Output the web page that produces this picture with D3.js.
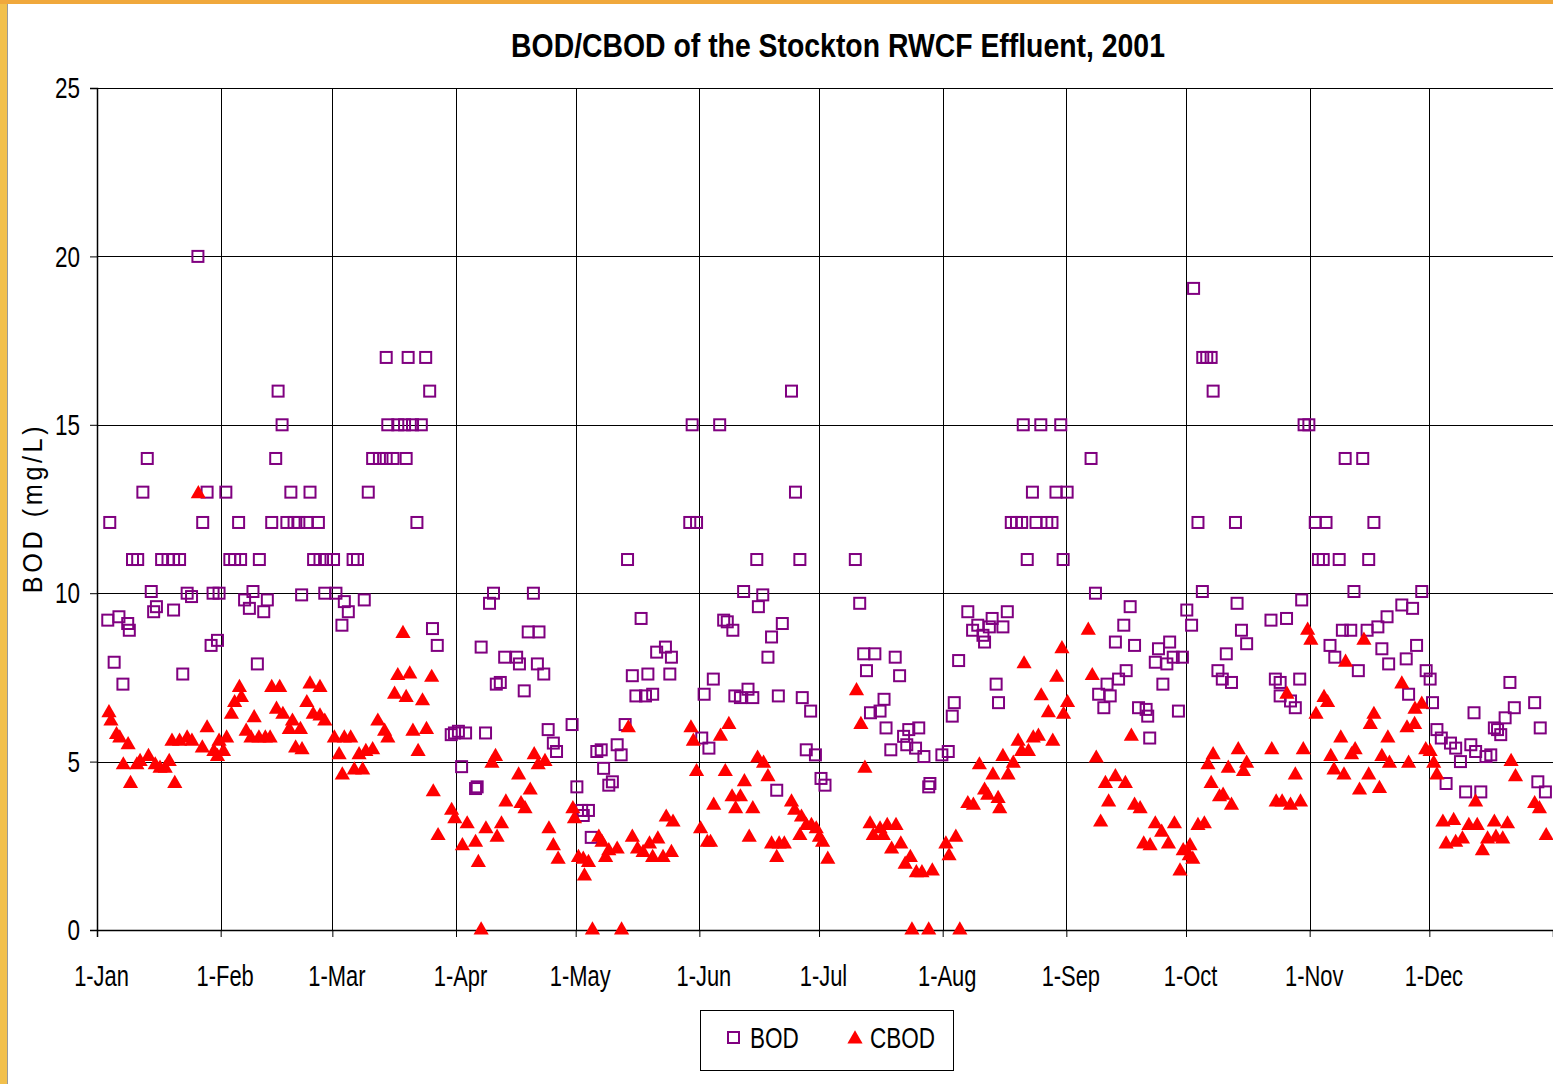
<!DOCTYPE html>
<html>
<head>
<meta charset="utf-8">
<script src="https://cdn.jsdelivr.net/npm/d3@7"></script>
<style>
  body { margin: 0; background: #fff; }
  text { font-family: "Liberation Sans", Arial, sans-serif; }
</style>
</head>
<body>
<div id="chart"></div>
<script>
// day of year (0 = 1-Jan) and mg/L
var bod = [
  [2.7,9.2],[3.2,12.1],[4.3,7.95],[5.5,9.3],[6.5,7.3],[7.7,9.1],[8.1,8.9],[8.9,11],[10.2,11],[11.5,13],
  [12.6,14],[13.6,10.05],[14.2,9.45],[14.9,9.6],[16.2,11],[17.8,11],[19.2,11],[19.2,9.5],[20.7,11],[21.5,7.6],
  [22.6,10],[23.7,9.9],[25.3,20],[26.5,12.1],[27.6,13],[28.6,8.45],[29.1,10],[30.2,8.6],[30.6,10],
  [32.3,13],[33.3,11],[34.5,11],[35.5,12.1],[36,11],[37,9.8],[38.2,9.55],[39.1,10.05],[40.2,7.9],[40.7,11],
  [41.8,9.45],[42.7,9.8],[43.8,12.1],[44.8,14],[45.4,16],[46.4,15],[47.6,12.1],[48.6,13],[49.4,12.1],[50.6,12.1],
  [51.3,9.95],[52.6,12.1],[53.4,13],[54.3,11],[55.5,12.1],[55.9,11],[57.1,10],[57.5,11],[59.3,11],[59.9,10],
  [61.4,9.05],[62,9.75],[63,9.45],[64.2,11],[65.3,11],[67,9.8],[68,13],[69.1,14],[70.8,14],[72.5,14],
  [72.5,17],[72.9,15],[74.2,14],[75.4,15],[77.1,15],[77.5,14],[78,17],[79.1,15],[80.2,12.1],[81.3,15],
  [82.4,17],[83.4,16],[84.1,8.95],[85.3,8.45],[88.8,5.8],[89.6,5.85],[90.6,5.9],[91.4,4.85],[92.4,5.85],[94.9,4.2],
  [95.3,4.25],[96.3,8.4],[97.4,5.85],[98.4,9.7],[99.4,10],[100.1,7.3],[101.1,7.35],[102.2,8.1],[105.2,8.1],[105.9,7.9],
  [107.1,7.1],[108.1,8.85],[109.4,10],[110.4,7.9],[110.8,8.85],[112,7.6],[113.1,5.95],[114.4,5.55],[115.2,5.3],[119.1,6.1],
  [120.3,4.25],[121.5,3.55],[121.9,3.4],[123.2,3.55],[123.9,2.75],[125.3,5.3],[126.4,5.35],[127,4.8],[128.3,4.3],[129.2,4.4],
  [130.4,5.5],[131.4,5.2],[132.4,6.1],[133,11],[134.2,7.55],[135.1,6.95],[136.4,9.25],[137.5,6.95],[138.1,7.6],[139.3,7],
  [140.3,8.25],[142.5,8.4],[143.6,7.6],[144,8.1],[148.6,12.1],[149.2,15],[150.3,12.1],
  [151.6,5.7],[152.2,7],[153.4,5.4],[154.5,7.45],[156.1,15],[157.1,9.2],[158,9.15],[159.4,8.9],[159.9,6.95],[161.3,6.9],
  [162.1,10.05],[163.2,7.15],[164.4,6.9],[165.4,11],[165.8,9.6],[166.9,9.95],[168.2,8.1],[169.1,8.7],[170.4,4.15],[170.8,6.95],
  [171.8,9.1],[174.1,16],[175.1,13],[176.2,11],[176.8,6.9],[177.8,5.35],[178.9,6.5],[180.1,5.2],
  [181.5,4.5],[182.5,4.3],[190.1,11],[191.2,9.7],[192.2,8.2],[192.9,7.7],[193.9,6.45],[195,8.2],[196.3,6.5],[197.3,6.85],
  [197.8,6],[199,5.35],[200.1,8.1],[201.2,7.55],[202.2,5.75],[203,5.5],[203.5,5.95],[205.2,5.4],[206,6],[207.3,5.15],
  [208.5,4.25],[208.8,4.35],
  [211.8,5.2],[213.4,5.3],[214.4,6.35],[214.9,6.75],[216,8],[218.3,9.45],[219.5,8.9],[220.8,9.05],[222.1,8.75],[222.5,8.55],
  [223.7,9],[224.4,9.25],[225.4,7.3],[226,6.75],[227.1,9],[228.2,9.45],[229.2,12.1],[230.5,12.1],[231.8,12.1],[232.2,15],
  [233.2,11],[234.5,13],[235.4,12.1],[236.6,15],[238.1,12.1],[239.4,12.1],[240.4,13],[241.6,15],[242.2,11],[243.2,13],
  [249.2,14],[250.3,10],[251.1,7],[252.4,6.6],[253.2,7.3],[254,6.95],[255.3,8.55],[256.1,7.45],[257.4,9.05],[258,7.7],
  [259,9.6],[260.1,8.45],[261.1,6.6],[263,6.55],[263.4,6.35],[263.9,5.7],[265.3,7.95],[266.1,8.35],[267.2,7.3],[268.2,7.9],
  [268.9,8.55],[269.8,8.1],[271.1,6.5],[272.1,8.1],
  [273.2,9.5],[274.4,9.05],[274.9,19.05],[276,12.1],[277.1,10.05],[277.2,17],[278.2,17],[279.3,17],[279.8,16],[281,7.7],
  [282.1,7.45],[283.1,8.2],[284.4,7.35],[285.4,12.1],[285.8,9.7],[286.9,8.9],[288.2,8.5],[294.3,9.2],[295.4,7.45],[296.6,7.35],
  [296.6,6.95],[298.2,9.25],[299.2,6.8],[300.4,6.6],[301.5,7.45],[302,9.8],[302.6,15],[303.8,15],
  [305.4,12.1],[306.2,11],[307.4,11],[308.1,12.1],[309.1,8.45],[310.3,8.1],[311.4,11],[312.2,8.9],[312.9,14],[314.3,8.9],
  [315.1,10.05],[316.2,7.7],[317.3,14],[318.4,8.9],[318.8,11],[320.1,12.1],[321.1,9],[322.1,8.35],[323.4,9.3],[323.8,7.9],
  [327.1,9.65],[328.2,8.05],[328.8,7],[329.8,9.55],[330.8,8.45],[332.1,10.05],[333.2,7.7],[334.2,7.45],
  [334.8,6.75],[335.9,5.95],[337,5.7],[338.2,4.35],[339.3,5.55],[340.6,5.4],[341.8,5],[343.1,4.1],[344.4,5.5],[345.2,6.45],
  [345.6,5.3],[346.9,4.1],[348.2,5.15],[349.4,5.2],[350.3,6],[351.1,5.95],[351.9,5.8],[353,6.3],[354.2,7.35],[355.3,6.6],
  [360.4,6.75],[361.2,4.4],[361.8,6],[363.1,4.1]
];

var cbod = [
  [3,6.45],[3.5,6.2],[4.9,5.8],[5.7,5.7],[6.6,4.9],[7.8,5.5],[8.4,4.35],[10,4.9],[10.8,5],[12.9,5.15],
  [14.6,4.9],[15.8,4.8],[17.1,4.8],[18.1,5],[18.8,5.6],[19.5,4.35],[20.7,5.6],[22.6,5.7],[23.8,5.6],[25.4,12.95],
  [26.4,5.4],[27.6,6],[29.3,5.3],[30.2,5.15],[30.6,5.6],
  [31.7,5.3],[32.5,5.7],[33.7,6.4],[34.5,6.75],[35.7,7.2],[36.2,6.9],[37.4,5.9],[38.6,5.7],[39.4,6.3],[40.6,5.7],
  [42.2,5.7],[43.4,5.7],[43.8,7.2],[45,6.55],[45.8,7.2],[46.6,6.4],[48.2,5.95],[49,6.2],[49.8,5.4],[51,5.95],
  [51.4,5.35],[52.6,6.75],[53.4,7.3],[54.2,6.4],[55.9,7.2],[55.9,6.35],[57.1,6.2],[59.5,5.7],
  [60.7,5.2],[61.5,4.6],[62,5.7],[63.6,5.7],[64.5,4.75],[65.7,5.2],[66.6,4.75],[67.4,5.3],[69.1,5.35],[70.4,6.2],
  [72.1,5.9],[72.9,5.7],[74.6,7],[75.4,7.55],[76.7,8.8],[77.5,6.9],[78.4,7.6],[79.2,5.9],[80.5,5.3],[81.6,6.8],
  [82.6,5.95],[83.9,7.5],[84.3,4.1],[85.5,2.8],[88.9,3.55],[89.7,3.3],
  [91.6,2.5],[92.8,3.15],[94.9,2.6],[95.6,2],[96.3,0],[97.5,3],[99,4.95],[99.9,5.15],[100.3,2.75],[101.4,3.15],
  [102.5,3.8],[105.7,4.6],[106.3,3.75],[107.3,3.6],[108.6,4.15],[109.6,5.2],[110.6,4.9],[112.3,5],[113.3,3],[114.4,2.5],
  [115.6,2.1],[119.3,3.6],
  [119.7,3.3],[120.7,2.15],[121.9,2.1],[122.2,1.6],[123.2,2],[124.2,0],[125.8,2.75],[126.6,2.6],[127.5,2.15],[128.3,2.35],
  [130.4,2.4],[131.5,0],[133.2,6],[134.2,2.75],[135.5,2.4],[136.9,2.3],[138.5,2.55],[139.3,2.15],[140.6,2.7],[141.9,2.15],
  [142.7,3.35],[144,2.3],[144.4,3.2],[148.9,6],[149.5,5.6],[150.3,4.7],
  [151.3,3],[153,2.6],[153.8,2.6],[154.6,3.7],[156.3,5.75],[157.5,4.7],[158.4,6.1],[159.2,3.95],[160.1,3.6],[161.3,3.95],
  [162.3,4.4],[163.5,2.75],[164.4,3.6],[165.6,5.1],[167.1,4.95],[168.2,4.55],[169.1,2.55],[170.4,2.15],[171,2.55],[172.3,2.55],
  [174.1,3.8],[174.9,3.55],[176.2,2.8],[176.6,3.35],[177.8,3.1],[179.1,3.1],[180.3,3],
  [181.1,2.75],[181.9,2.6],[183.2,2.1],[190.4,7.1],[191.5,6.1],[192.5,4.8],[193.8,3.15],[194.6,2.8],[196.3,3],[197.1,2.8],
  [198.1,3.1],[199.2,2.4],[200.3,3.1],[201.5,2.55],[202.6,1.95],[203.9,2.15],[204.3,0],[205.4,1.7],[206.8,1.7],[208.5,0],
  [209.4,1.75],
  [212.8,2.55],[213.6,2.2],[215.3,2.75],[216.3,0],[218.3,3.75],[219.7,3.7],[221.2,4.9],[222.5,4.15],[223.3,4],[224.6,4.6],
  [225.9,3.9],[226.3,3.6],[227.1,5.15],[228.4,4.6],[229.7,4.95],[230.9,5.6],[231.8,5.3],[232.4,7.9],[233.5,5.3],[234.7,5.7],
  [236,5.75],[236.7,6.95],[238.5,6.45],[239.6,5.6],[240.6,7.5],[241.9,8.35],[242.3,6.4],[243.3,6.75],
  [248.5,8.9],[249.5,7.55],[250.5,5.1],[251.6,3.2],[252.8,4.35],[253.6,3.8],[255.3,4.55],[257.8,4.35],[259.3,5.75],[260.1,3.7],
  [261.5,3.6],[262.4,2.55],[264,2.5],[265.3,3.15],[266.9,2.9],[268.6,2.55],[270.1,3.15],[271.5,1.75],[272.3,2.35],
  [273.8,2.2],[274,2.5],[274.7,2.1],[276,3.1],[277.6,3.15],[278.5,4.9],[279.3,4.35],[279.8,5.2],[281.4,3.95],[282.3,4],
  [283.6,4.8],[284.4,3.7],[286.1,5.35],[287.4,4.7],[288.2,4.95],[294.5,5.35],[295.6,3.8],[297.1,3.8],[298.3,7],[299.2,3.7],
  [300.4,4.6],[301.7,3.8],[302.4,5.35],
  [303.5,8.9],[304.3,8.6],[305.6,6.4],[307.6,6.9],[308.5,6.75],[309.3,5.15],[310.1,4.75],[311.8,5.7],[312.6,4.6],[313,7.95],
  [314.5,5.2],[315.4,5.35],[316.5,4.15],[317.6,8.6],[318.8,4.6],[319.2,6.1],[320.1,6.4],[321.5,4.2],[322.1,5.15],[323.6,5.7],
  [324,4.95],[327.1,7.3],[328.4,6],[328.8,4.95],[330.3,6.1],[330.4,6.55],[332.1,6.7],[333.1,5.35],[334.2,5.3],
  [335.1,4.95],[335.9,4.6],[337.4,3.2],[338.2,2.55],[340.1,3.25],[340.6,2.6],[342.3,2.7],[343.9,3.1],[345.6,3.8],[346,3.1],
  [347.3,2.35],[348.6,2.7],[350.3,3.2],[350.7,2.75],[352.4,2.7],[353.6,3.15],[354.5,5],[355.6,4.55],[360.4,3.75],[361.6,3.6],
  [363.3,2.8]
];

var monthLabels = ["1-Jan","1-Feb","1-Mar","1-Apr","1-May","1-Jun","1-Jul","1-Aug","1-Sep","1-Oct","1-Nov","1-Dec"];
var yTicks = [0, 5, 10, 15, 20, 25];
var seriesNames = ["BOD", "CBOD"];

var width = 1553, height = 1084;
var plot = {left: 97, right: 1553, top: 88, bottom: 930};

var yearStart = Date.UTC(2001, 0, 1);
function toDate(doy){ return new Date(yearStart + doy * 864e5); }

var xScale = d3.scaleUtc()
  .domain([toDate(0), new Date(Date.UTC(2002, 0, 1))])
  .range([plot.left, plot.right]);

var yScale = d3.scaleLinear()
  .domain([0, 25])
  .range([plot.bottom, plot.top]);

var months = d3.utcMonth.range(toDate(0), new Date(Date.UTC(2002, 0, 1)));

// no narrow font installed, so squeeze the regular one horizontally
function narrowText(parent, x, y, txt, size, sx, anchor){
  return parent.append("text")
    .attr("transform", "translate(" + x + "," + y + ") scale(" + sx + ",1)")
    .attr("text-anchor", anchor || "start")
    .attr("font-size", size)
    .text(txt);
}

var svg = d3.select("#chart").append("svg")
  .attr("width", width)
  .attr("height", height)
  .style("display", "block");

// slide frame
svg.append("rect").attr("x", 0).attr("y", 0).attr("width", width).attr("height", height).attr("fill", "#fff");
svg.append("rect").attr("x", 0).attr("y", 0).attr("width", 7).attr("height", height).attr("fill", "#f2c04c");
svg.append("rect").attr("x", 0).attr("y", 0).attr("width", width).attr("height", 4).attr("fill", "#f0a83c");
svg.append("line").attr("x1", 7.5).attr("x2", 7.5).attr("y1", 4).attr("y2", height)
  .attr("stroke", "#9a9a9a").attr("stroke-width", 1);

// title
narrowText(svg, 838, 57, "BOD/CBOD of the Stockton RWCF Effluent, 2001", 34, 0.835, "middle")
  .attr("font-weight", "bold");

// gridlines
var grid = svg.append("g").attr("shape-rendering", "crispEdges");
grid.selectAll(".hgrid").data(yTicks).enter().append("line")
  .attr("x1", plot.left).attr("x2", plot.right)
  .attr("y1", function(d){ return yScale(d) + 0.5; })
  .attr("y2", function(d){ return yScale(d) + 0.5; })
  .attr("stroke", "#000").attr("stroke-width", 1);
grid.selectAll(".vgrid").data(months).enter().append("line")
  .attr("x1", function(d){ return xScale(d) + 0.5; })
  .attr("x2", function(d){ return xScale(d) + 0.5; })
  .attr("y1", plot.top).attr("y2", plot.bottom)
  .attr("stroke", "#000").attr("stroke-width", 1);

// axes
var yAxis = d3.axisLeft(yScale).tickValues(yTicks).tickSize(7).tickPadding(10).tickFormat(d3.format("d"));
var gy = svg.append("g").attr("transform", "translate(" + plot.left + ",0)").call(yAxis);
var xAxis = d3.axisBottom(xScale).tickValues(months).tickSize(7).tickPadding(16)
  .tickFormat(function(d, i){ return monthLabels[i]; });
var gx = svg.append("g").attr("transform", "translate(0," + plot.bottom + ")").call(xAxis);

[gx, gy].forEach(function(g){
  g.select(".domain").attr("stroke", "#000").attr("stroke-width", 1.5);
  g.selectAll(".tick line").attr("stroke", "#000");
  g.selectAll(".tick text").attr("fill", "#000").attr("font-size", 30)
    .style("font-family", '"Liberation Sans", Arial, sans-serif');
});
// baseline of the month labels sits about 57px under the axis
gx.selectAll(".tick text").attr("transform", "translate(4,0) scale(0.73,1)")
  .attr("y", 56).attr("dy", "0");
gy.selectAll(".tick text").attr("transform", "scale(0.75,1)").attr("x", -17 / 0.75);

svg.append("text")
  .attr("transform", "translate(42,508) rotate(-90) scale(0.9,1)")
  .attr("text-anchor", "middle")
  .attr("font-size", 28)
  .attr("letter-spacing", 4)
  .text("BOD (mg/L)");

// markers
var tri = d3.symbol().type(d3.symbolTriangle).size(100);

svg.append("g").selectAll("rect").data(bod).enter().append("rect")
  .attr("x", function(d){ return xScale(toDate(d[0])) - 5.5; })
  .attr("y", function(d){ return yScale(d[1]) - 5.5; })
  .attr("width", 11).attr("height", 11)
  .attr("fill", "none").attr("stroke", "#800080").attr("stroke-width", 2);

svg.append("g").selectAll("path").data(cbod).enter().append("path")
  .attr("d", tri)
  .attr("transform", function(d){ return "translate(" + xScale(toDate(d[0])) + "," + yScale(d[1]) + ")"; })
  .attr("fill", "#ff0000");

// legend
var leg = svg.append("g").attr("transform", "translate(700,1010)");
leg.append("rect").attr("x", 0.5).attr("y", 0.5).attr("width", 253).attr("height", 60)
  .attr("fill", "#fff").attr("stroke", "#000").attr("stroke-width", 1);
leg.append("rect").attr("x", 28).attr("y", 22).attr("width", 11).attr("height", 11)
  .attr("fill", "none").attr("stroke", "#800080").attr("stroke-width", 2);
narrowText(leg, 50, 38, seriesNames[0], 30, 0.75);
leg.append("path").attr("d", tri).attr("transform", "translate(155,29)").attr("fill", "#ff0000");
narrowText(leg, 170, 38, seriesNames[1], 30, 0.75);
</script>
</body>
</html>
